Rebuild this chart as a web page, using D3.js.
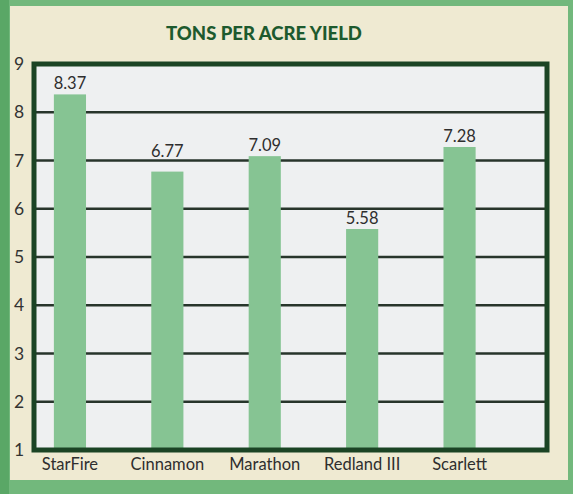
<!DOCTYPE html>
<html>
<head>
<meta charset="utf-8">
<script src="https://cdn.jsdelivr.net/npm/d3@7"></script>
<style>
  html, body { margin: 0; padding: 0; background: #72b87c; }
  svg { display: block; }
  text { font-family: Lato, "Open Sans", sans-serif; }
</style>
</head>
<body>
<svg id="chart"></svg>
<script>
// data
const varieties = ["StarFire", "Cinnamon", "Marathon", "Redland III", "Scarlett"];
const yields = [8.37, 6.77, 7.09, 5.58, 7.28];
const yTicks = [1, 2, 3, 4, 5, 6, 7, 8, 9];
const chartTitle = "TONS PER ACRE YIELD";

const W = 573, H = 494;
const frame = { left: 34, top: 64, right: 547, bottom: 450 };
const font = "Lato, \"Open Sans\", sans-serif";

const svg = d3.select("#chart").attr("width", W).attr("height", H);

// green backdrop + cream card
svg.append("rect").attr("x", 0).attr("y", 0).attr("width", W).attr("height", H).attr("fill", "#72b87c");
svg.append("rect").attr("x", 0).attr("y", 0).attr("width", 9).attr("height", H).attr("fill", "#5aa766");
svg.append("rect")
  .attr("x", 10).attr("y", 6)
  .attr("width", 558).attr("height", 474)
  .attr("fill", "#efead2");

// title
svg.append("text")
  .attr("x", 264).attr("y", 40)
  .attr("text-anchor", "middle")
  .attr("font-size", 18.5).attr("font-weight", 900)
  .attr("fill", "#1d5a2e")
  .text(chartTitle);

const y = d3.scaleLinear().domain([1, 9]).range([frame.bottom, frame.top]);

// bands are not centred in the frame in the original, so the range is shifted left
const x = d3.scaleBand()
  .domain(varieties)
  .range([21, 508.5])
  .paddingInner(0.67)
  .paddingOuter(0.3375);

// plot background
svg.append("rect")
  .attr("x", frame.left).attr("y", frame.top)
  .attr("width", frame.right - frame.left).attr("height", frame.bottom - frame.top)
  .attr("fill", "#eef0f1");

// gridlines
const gridVals = yTicks.filter(d => d > 1 && d < 9);
svg.append("g")
  .selectAll("line")
  .data(gridVals)
  .join("line")
  .attr("x1", frame.left).attr("x2", frame.right)
  .attr("y1", d => y(d)).attr("y2", d => y(d))
  .attr("stroke", "#27352b").attr("stroke-width", 2.5);

// bars
svg.append("g")
  .selectAll("rect")
  .data(yields)
  .join("rect")
  .attr("x", (d, i) => x(varieties[i]))
  .attr("width", x.bandwidth())
  .attr("y", d => y(d))
  .attr("height", d => y(1) - y(d))
  .attr("fill", "#86c493");

// value labels - nudged above a gridline if they would sit on it
function labelY(d) {
  let b = y(d) - 5;
  gridVals.forEach(g => {
    const gy = y(g);
    if (gy > b - 12 && gy < b + 3) b = gy - 4;
  });
  return b;
}
svg.append("g")
  .selectAll("text")
  .data(yields)
  .join("text")
  .attr("x", (d, i) => x(varieties[i]) + x.bandwidth() / 2)
  .attr("y", labelY)
  .attr("text-anchor", "middle")
  .attr("font-size", 16.5)
  .attr("fill", "#2e2e2e")
  .text(d => d.toFixed(2));

// frame
svg.append("rect")
  .attr("x", frame.left).attr("y", frame.top)
  .attr("width", frame.right - frame.left).attr("height", frame.bottom - frame.top)
  .attr("fill", "none")
  .attr("stroke", "#1b4424").attr("stroke-width", 5);

// y axis labels
const yAxis = d3.axisLeft(y).tickValues(yTicks).tickSize(0).tickPadding(0).tickFormat(d3.format("d"));
const ya = svg.append("g").attr("transform", "translate(19,0)").call(yAxis);
ya.select(".domain").remove();
ya.selectAll("text")
  .attr("font-size", 17.5).attr("font-family", font)
  .attr("fill", "#333").attr("text-anchor", "middle");

// x axis labels
const xAxis = d3.axisBottom(x).tickSize(0).tickPadding(0);
const xa = svg.append("g").attr("transform", `translate(0,${frame.bottom + 8})`).call(xAxis);
xa.select(".domain").remove();
xa.selectAll("text")
  .attr("font-size", 16.5).attr("font-family", font)
  .attr("fill", "#2e2e2e");
</script>
</body>
</html>
